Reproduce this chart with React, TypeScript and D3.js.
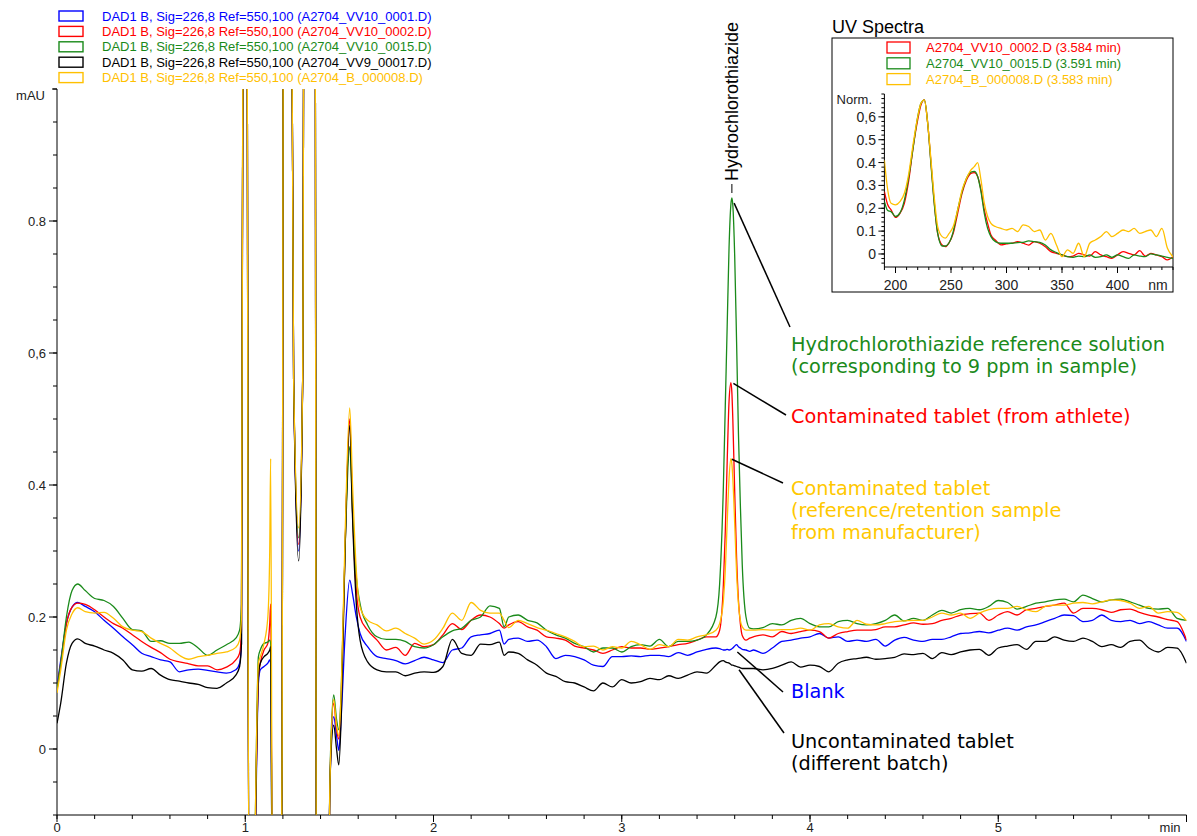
import React from 'react';
import * as d3 from 'd3';

// retention time grid (min), denser around the solvent front and the HCT peak
const time = [
  0, 0.02, 0.05, 0.08, 0.11, 0.15, 0.2, 0.25, 0.3, 0.35, 0.4, 0.45, 0.5, 0.55, 0.6, 0.65, 0.7, 0.75, 0.8, 0.85, 0.9, 0.95,
  0.97, 0.98, 0.99, 1.0, 1.01, 1.02, 1.045, 1.055, 1.07, 1.08, 1.1, 1.12, 1.13, 1.135, 1.145, 1.185, 1.195, 1.205, 1.24, 1.257, 1.284, 1.305, 1.315, 1.37, 1.378, 1.44, 1.45, 1.47, 1.485, 1.497, 1.51, 1.53, 1.555, 1.57, 1.59, 1.61,
  1.65, 1.7, 1.75, 1.8, 1.85, 1.9, 1.95, 2.0, 2.05, 2.1, 2.15, 2.2, 2.25, 2.3, 2.35, 2.375, 2.4, 2.45, 2.5, 2.55, 2.6, 2.65, 2.7, 2.75, 2.8, 2.85, 2.9, 2.95, 3.0, 3.05, 3.1, 3.15, 3.2, 3.25, 3.3, 3.35, 3.4, 3.45,
  3.5, 3.52, 3.54, 3.55, 3.56, 3.57, 3.58, 3.585, 3.59, 3.6, 3.61, 3.62, 3.63, 3.64, 3.66, 3.68,
  3.7, 3.75, 3.8, 3.85, 3.9, 3.95, 4.0, 4.05, 4.1, 4.15, 4.2, 4.25, 4.3, 4.35, 4.4, 4.45, 4.5, 4.55, 4.6, 4.65, 4.7, 4.75, 4.8, 4.85, 4.9, 4.95,
  5.0, 5.05, 5.1, 5.15, 5.2, 5.25, 5.3, 5.35, 5.4, 5.45, 5.5, 5.55, 5.6, 5.65, 5.7, 5.75, 5.8, 5.85, 5.9, 5.95, 6.0,
];

// A2704_VV10_0001.D (blank)
const blank = [
  0.095, 0.135, 0.19, 0.215, 0.222, 0.216, 0.208, 0.195, 0.183, 0.17, 0.158, 0.145, 0.14, 0.135, 0.132, 0.117, 0.12, 0.121, 0.119, 0.117, 0.115, 0.12,
  0.13, 0.16, 1.5, 3, 1.2, -0.3, -0.3, -0.12, 0.1, 0.12, 0.125, 0.13, 0.135, 0.13, -0.3, -0.3, -0.05, 1.5, 1.5, 0.56, 0.3, 0.56, 1.5, 1.5, -0.3, -0.3, -0.05, 0.049, 0.02, -0.002, 0.05, 0.17, 0.256, 0.235, 0.2, 0.175,
  0.155, 0.14, 0.137, 0.134, 0.129, 0.134, 0.139, 0.135, 0.131, 0.15, 0.153, 0.17, 0.173, 0.175, 0.18, 0.159, 0.166, 0.168, 0.163, 0.165, 0.155, 0.137, 0.142, 0.14, 0.135, 0.127, 0.125, 0.14, 0.14, 0.141, 0.14, 0.142, 0.142, 0.14, 0.146, 0.142, 0.147, 0.151,
  0.153, 0.152, 0.15, 0.15, 0.151, 0.15, 0.151, 0.152, 0.153, 0.156, 0.158, 0.155, 0.153, 0.151, 0.15, 0.148,
  0.15, 0.145, 0.153, 0.163, 0.165, 0.168, 0.17, 0.175, 0.168, 0.17, 0.163, 0.165, 0.163, 0.166, 0.156, 0.165, 0.169, 0.165, 0.163, 0.166, 0.166, 0.17, 0.175, 0.176, 0.178, 0.176,
  0.18, 0.183, 0.18, 0.185, 0.188, 0.193, 0.198, 0.203, 0.202, 0.193, 0.195, 0.203, 0.195, 0.193, 0.195, 0.19, 0.193, 0.188, 0.183, 0.183, 0.163,
];

// A2704_VV10_0002.D (contaminated tablet, athlete)
const athlete = [
  0.09, 0.13, 0.19, 0.215, 0.221, 0.219, 0.211, 0.2, 0.19, 0.183, 0.173, 0.163, 0.154, 0.146, 0.136, 0.132, 0.129, 0.126, 0.126, 0.12, 0.124, 0.135,
  0.145, 0.18, 1.5, 3, 1.2, -0.3, -0.3, -0.1, 0.11, 0.13, 0.15, 0.16, 0.19, 0.22, -0.3, -0.3, -0.05, 1.5, 1.5, 0.56, 0.31, 0.56, 1.5, 1.5, -0.3, -0.3, -0.05, 0.07, 0.03, 0.015, 0.08, 0.3, 0.5, 0.36, 0.24, 0.2,
  0.18, 0.165, 0.15, 0.154, 0.142, 0.16, 0.155, 0.158, 0.173, 0.19, 0.181, 0.195, 0.203, 0.2, 0.19, 0.183, 0.188, 0.193, 0.185, 0.18, 0.17, 0.168, 0.165, 0.156, 0.153, 0.15, 0.145, 0.15, 0.155, 0.153, 0.153, 0.151, 0.153, 0.155, 0.158, 0.16, 0.165, 0.17,
  0.17, 0.18, 0.25, 0.33, 0.435, 0.527, 0.555, 0.54, 0.5, 0.39, 0.29, 0.225, 0.19, 0.172, 0.165, 0.168,
  0.17, 0.173, 0.17, 0.178, 0.175, 0.178, 0.18, 0.178, 0.168, 0.175, 0.178, 0.18, 0.18, 0.181, 0.185, 0.185, 0.188, 0.191, 0.189, 0.19, 0.195, 0.198, 0.203, 0.205, 0.206, 0.195,
  0.203, 0.208, 0.203, 0.211, 0.213, 0.216, 0.218, 0.221, 0.206, 0.213, 0.213, 0.211, 0.207, 0.211, 0.212, 0.207, 0.203, 0.2, 0.196, 0.193, 0.165,
];

// A2704_VV10_0015.D (HCT reference solution)
const reference = [
  0.09, 0.13, 0.2, 0.24, 0.25, 0.24, 0.228, 0.225, 0.216, 0.198, 0.181, 0.179, 0.163, 0.164, 0.16, 0.16, 0.162, 0.153, 0.142, 0.15, 0.158, 0.168,
  0.18, 0.22, 1.5, 3, 1.2, -0.3, -0.3, -0.08, 0.14, 0.15, 0.16, 0.162, 0.165, 0.16, -0.3, -0.3, -0.05, 1.5, 1.5, 0.56, 0.32, 0.56, 1.5, 1.5, -0.3, -0.3, -0.04, 0.082, 0.045, 0.029, 0.09, 0.3, 0.458, 0.36, 0.26, 0.22,
  0.188, 0.17, 0.166, 0.166, 0.163, 0.155, 0.153, 0.158, 0.17, 0.179, 0.183, 0.195, 0.2, 0.217, 0.213, 0.185, 0.2, 0.203, 0.195, 0.191, 0.18, 0.173, 0.168, 0.16, 0.155, 0.147, 0.153, 0.153, 0.147, 0.155, 0.158, 0.156, 0.166, 0.155, 0.163, 0.163, 0.165, 0.173,
  0.2, 0.25, 0.4, 0.52, 0.64, 0.76, 0.826, 0.835, 0.824, 0.747, 0.617, 0.477, 0.37, 0.28, 0.2, 0.183,
  0.182, 0.184, 0.19, 0.188, 0.195, 0.198, 0.19, 0.185, 0.185, 0.193, 0.195, 0.19, 0.188, 0.19, 0.195, 0.203, 0.194, 0.198, 0.195, 0.203, 0.21, 0.206, 0.211, 0.213, 0.211, 0.216,
  0.225, 0.222, 0.212, 0.216, 0.221, 0.223, 0.226, 0.227, 0.223, 0.233, 0.228, 0.223, 0.226, 0.227, 0.223, 0.218, 0.213, 0.212, 0.213, 0.198, 0.195,
];

// A2704_VV9_00017.D (uncontaminated tablet)
const uncontaminated = [
  0.039, 0.07, 0.13, 0.16, 0.167, 0.16, 0.156, 0.15, 0.145, 0.135, 0.12, 0.118, 0.122, 0.112, 0.105, 0.103, 0.1, 0.098, 0.093, 0.092, 0.1, 0.112,
  0.125, 0.16, 1.5, 3, 1.2, -0.3, -0.3, -0.1, 0.11, 0.13, 0.14, 0.145, 0.15, 0.155, -0.3, -0.3, -0.05, 1.5, 1.5, 0.56, 0.285, 0.56, 1.5, 1.5, -0.3, -0.3, -0.05, 0.036, 0.0, -0.024, 0.05, 0.3, 0.49, 0.35, 0.22, 0.165,
  0.132, 0.12, 0.117, 0.117, 0.111, 0.115, 0.117, 0.116, 0.125, 0.166, 0.145, 0.142, 0.159, 0.158, 0.162, 0.142, 0.147, 0.145, 0.135, 0.127, 0.115, 0.11, 0.102, 0.1, 0.094, 0.088, 0.1, 0.094, 0.105, 0.1, 0.102, 0.107, 0.105, 0.111, 0.107, 0.112, 0.117, 0.115,
  0.127, 0.132, 0.134, 0.132, 0.131, 0.13, 0.128, 0.127, 0.127, 0.126, 0.125, 0.124, 0.123, 0.122, 0.122, 0.122,
  0.122, 0.12, 0.122, 0.127, 0.132, 0.124, 0.127, 0.125, 0.117, 0.13, 0.135, 0.137, 0.139, 0.136, 0.137, 0.139, 0.144, 0.143, 0.145, 0.137, 0.146, 0.143, 0.147, 0.15, 0.151, 0.142,
  0.153, 0.156, 0.158, 0.151, 0.163, 0.163, 0.17, 0.165, 0.163, 0.168, 0.163, 0.155, 0.158, 0.154, 0.163, 0.165, 0.153, 0.147, 0.154, 0.153, 0.13,
];

// A2704_B_000008.D (retention sample from manufacturer)
const manufacturer = [
  0.085, 0.12, 0.18, 0.205, 0.214, 0.208, 0.206, 0.207, 0.198, 0.185, 0.18, 0.178, 0.168, 0.16, 0.153, 0.142, 0.136, 0.14, 0.142, 0.145, 0.147, 0.154,
  0.165, 0.2, 1.5, 3, 1.2, -0.3, -0.3, -0.08, 0.13, 0.14, 0.16, 0.2, 0.3, 0.44, -0.3, -0.3, -0.05, 1.5, 1.5, 0.56, 0.335, 0.56, 1.5, 1.5, -0.3, -0.3, -0.05, 0.075, 0.035, 0.02, 0.09, 0.32, 0.517, 0.4, 0.27, 0.215,
  0.195, 0.188, 0.179, 0.183, 0.175, 0.168, 0.159, 0.165, 0.183, 0.206, 0.195, 0.222, 0.21, 0.206, 0.206, 0.195, 0.184, 0.195, 0.19, 0.184, 0.18, 0.175, 0.17, 0.163, 0.155, 0.156, 0.15, 0.155, 0.153, 0.163, 0.158, 0.151, 0.158, 0.155, 0.166, 0.165, 0.17, 0.173,
  0.18, 0.19, 0.225, 0.27, 0.342, 0.41, 0.44, 0.432, 0.41, 0.342, 0.267, 0.22, 0.195, 0.185, 0.18, 0.18,
  0.18, 0.181, 0.18, 0.181, 0.181, 0.183, 0.18, 0.188, 0.19, 0.185, 0.183, 0.195, 0.189, 0.188, 0.19, 0.193, 0.194, 0.195, 0.195, 0.2, 0.206, 0.203, 0.206, 0.198, 0.206, 0.211,
  0.213, 0.213, 0.216, 0.211, 0.208, 0.216, 0.218, 0.218, 0.221, 0.222, 0.22, 0.223, 0.226, 0.225, 0.221, 0.213, 0.216, 0.206, 0.208, 0.207, 0.194,
];

const legendLabels = [
  'DAD1 B, Sig=226,8 Ref=550,100 (A2704_VV10_0001.D)',
  'DAD1 B, Sig=226,8 Ref=550,100 (A2704_VV10_0002.D)',
  'DAD1 B, Sig=226,8 Ref=550,100 (A2704_VV10_0015.D)',
  'DAD1 B, Sig=226,8 Ref=550,100 (A2704_VV9_00017.D)',
  'DAD1 B, Sig=226,8 Ref=550,100 (A2704_B_000008.D)',
];
const seriesColors = ['#0000ff', '#ff0000', '#1a8a1a', '#000000', '#ffc000'];

const xTicks = [0, 1, 2, 3, 4, 5];
const yTicks = [0, 0.2, 0.4, 0.6, 0.8];
const yTickLabels = ['0', '0.2', '0.4', '0,6', '0.8'];

// UV spectra of the HCT peak
const wavelength = [
  190, 193, 196, 200, 204, 208, 212, 216, 220, 223, 226, 229, 232, 235, 238, 242, 245, 248, 252, 256, 260, 264, 268, 271, 274, 277, 280, 283, 286, 290,
  295, 300, 305, 310, 315, 320, 325, 330, 335, 340, 345, 350, 355, 360, 365, 370, 375, 380, 385, 390, 395, 400, 405, 410, 415, 420, 425, 430, 435, 440, 445, 450,
];
const specAthlete = [
  0.273, 0.215, 0.193, 0.16, 0.178, 0.222, 0.324, 0.47, 0.587, 0.653, 0.674, 0.572, 0.397, 0.222, 0.09, 0.039, 0.032, 0.047, 0.09, 0.178, 0.266, 0.324, 0.353, 0.356, 0.339, 0.28, 0.193, 0.134, 0.083, 0.061,
  0.04, 0.044, 0.047, 0.054, 0.047, 0.039, 0.054, 0.047, 0.032, 0.01, 0.003, -0.004, -0.012, -0.009, 0.003, -0.004, -0.009, 0.01, -0.004, -0.012, -0.019, -0.004, 0.01, 0.003, -0.004, 0.015, -0.009, 0.003, -0.004, -0.012, -0.026, -0.012,
];
const specReference = [
  0.23, 0.19, 0.185, 0.164, 0.18, 0.236, 0.339, 0.47, 0.6, 0.66, 0.674, 0.572, 0.39, 0.215, 0.09, 0.035, 0.035, 0.047, 0.098, 0.193, 0.273, 0.331, 0.358, 0.361, 0.339, 0.273, 0.178, 0.112, 0.076, 0.054,
  0.047, 0.047, 0.047, 0.05, 0.051, 0.057, 0.054, 0.051, 0.039, 0.018, 0.006, -0.004, -0.012, -0.015, -0.009, -0.012, -0.004, -0.015, -0.012, -0.004, -0.015, -0.004, -0.012, -0.019, -0.004, -0.009, -0.012, 0.0, -0.004, -0.009, -0.015, -0.019,
];
const specManufacturer = [
  0.41, 0.28, 0.222, 0.215, 0.229, 0.266, 0.353, 0.485, 0.6, 0.66, 0.674, 0.572, 0.41, 0.244, 0.12, 0.076, 0.069, 0.088, 0.12, 0.193, 0.28, 0.331, 0.368, 0.382, 0.4, 0.324, 0.222, 0.164, 0.134, 0.12,
  0.112, 0.105, 0.112, 0.098, 0.127, 0.12, 0.098, 0.105, 0.061, 0.09, 0.039, -0.012, 0.018, 0.003, 0.047, -0.012, 0.047, 0.061, 0.076, 0.098, 0.076, 0.09, 0.105, 0.098, 0.112, 0.09, 0.098, 0.105, 0.076, 0.112, 0.025, -0.012,
];
const specLabels = [
  'A2704_VV10_0002.D (3.584 min)',
  'A2704_VV10_0015.D (3.591 min)',
  'A2704_B_000008.D (3.583 min)',
];
const specColors = ['#ff0000', '#1a8a1a', '#ffc000'];
const specXTicks = [200, 250, 300, 350, 400];
const specYTicks = [0, 0.1, 0.2, 0.3, 0.4, 0.5, 0.6];
const specYLabels = ['0', '0.1', '0,2', '0.3', '0.4', '0.5', '0,6'];

const peakTime = 3.585;

// callouts: anchor on the trace (min, mAU), then label to the right
const notes = [
  { lines: ['Hydrochlorothiazide reference solution', '(corresponding to 9 ppm in sample)'], color: '#1a8a1a', at: [3.597, 0.827], end: [790, 327], baseline: 351 },
  { lines: ['Contaminated tablet (from athlete)'], color: '#ff0000', at: [3.593, 0.554], end: [786, 415], baseline: 423 },
  { lines: ['Contaminated tablet', '(reference/retention sample', 'from manufacturer)'], color: '#ffc800', at: [3.585, 0.439], end: [783, 483], baseline: 495 },
  { lines: ['Blank'], color: '#0000ff', at: [3.614, 0.147], end: [783, 692], baseline: 698 },
  { lines: ['Uncontaminated tablet', '(different batch)'], color: '#000000', at: [3.623, 0.12], end: [784, 733], baseline: 748 },
];

const W = 1197;
const H = 836;
const fontUI = '"Liberation Sans", Arial, sans-serif';
const fontNote = '"DejaVu Sans", Verdana, sans-serif';

export default function App() {
  const x = d3.scaleLinear().domain([0, 6]).range([57, 1186.5]);
  const y = d3.scaleLinear().domain([-0.1, 1.0]).range([815, 89]);

  const xs = d3.scaleLinear().domain([190, 450]).range([884.4, 1173]);
  const ys = d3.scaleLinear().domain([-0.057, 0.7]).range([267, 94]);

  const line = d3
    .line<[number, number]>()
    .x(d => x(d[0]))
    .y(d => y(d[1]))
    .curve(d3.curveMonotoneX);
  const specLine = d3
    .line<[number, number]>()
    .x(d => xs(d[0]))
    .y(d => ys(d[1]))
    .curve(d3.curveMonotoneX);

  const traces = [blank, athlete, reference, uncontaminated, manufacturer];
  const spectra = [specAthlete, specReference, specManufacturer];

  const yMinor = d3.range(-2, 21).map(i => i * 0.05);
  const xMinor = d3.range(0, 31).map(i => i * 0.2);
  const sYMinor = d3.range(-2, 36).map(i => i * 0.02);
  const sXMinor = d3.range(19, 46).map(i => i * 10);

  return (
    <svg
      width={W}
      height={H}
      style={{ position: 'absolute', left: 0, top: 0, background: '#fff' }}
      fontFamily={fontUI}
    >
      <defs>
        <clipPath id="plotClip">
          <rect x={x(0)} y={y(1.0)} width={x(6) - x(0)} height={y(-0.1) - y(1.0)} />
        </clipPath>
        <clipPath id="specClip">
          <rect x={xs(190)} y={ys(0.7)} width={xs(450) - xs(190)} height={ys(-0.057) - ys(0.7)} />
        </clipPath>
      </defs>
      <rect width={W} height={H} fill="#fff" />

      {/* legend */}
      {legendLabels.map((label, i) => (
        <g key={label}>
          <rect x={59} y={11 + i * 15.4} width={24} height={10} fill="none" stroke={seriesColors[i]} strokeWidth={1.4} />
          <text x={102} y={20.5 + i * 15.4} fontSize={13} fill={seriesColors[i]}>
            {label}
          </text>
        </g>
      ))}

      {/* y axis */}
      <line x1={x(0)} x2={x(0)} y1={y(1.0)} y2={y(-0.1)} stroke="#000" />
      <line x1={x(0) - 5} x2={x(0)} y1={y(1.0)} y2={y(1.0)} stroke="#000" />
      {yMinor.map(v => (
        <line key={'ym' + v} x1={x(0) - 4} x2={x(0)} y1={y(v)} y2={y(v)} stroke="#000" />
      ))}
      {yTicks.map((v, i) => (
        <g key={'y' + v}>
          <line x1={x(0) - 8} x2={x(0)} y1={y(v)} y2={y(v)} stroke="#000" />
          <text x={46} y={y(v) + 4.5} fontSize={13} textAnchor="end" fill="#222">
            {yTickLabels[i]}
          </text>
        </g>
      ))}
      <text x={45} y={100} fontSize={13} textAnchor="end" fill="#222">
        mAU
      </text>

      {/* x axis */}
      <line x1={x(0)} x2={x(6)} y1={y(-0.1)} y2={y(-0.1)} stroke="#000" />
      {xMinor.map(t => (
        <line key={'xm' + t} x1={x(t)} x2={x(t)} y1={y(-0.1)} y2={y(-0.1) + 4} stroke="#000" />
      ))}
      {xTicks.map(t => (
        <g key={'x' + t}>
          <line x1={x(t)} x2={x(t)} y1={y(-0.1)} y2={y(-0.1) + 7} stroke="#000" />
          <text x={x(t)} y={832} fontSize={13} textAnchor="middle" fill="#222">
            {t}
          </text>
        </g>
      ))}
      <line x1={x(6)} x2={x(6)} y1={y(-0.1)} y2={y(-0.1) + 7} stroke="#000" />
      <text x={x(6) - 6} y={832} fontSize={13} textAnchor="end" fill="#222">
        min
      </text>

      {/* chromatograms */}
      <g clipPath="url(#plotClip)">
        {traces.map((vals, i) => (
          <path
            key={'tr' + i}
            d={line(d3.zip(time, vals) as [number, number][]) || ''}
            fill="none"
            stroke={seriesColors[i]}
            strokeWidth={1.3}
            strokeLinejoin="round"
          />
        ))}
      </g>

      {/* peak label */}
      <line x1={x(peakTime)} x2={x(peakTime)} y1={184} y2={193} stroke="#000" />
      <text
        transform={`translate(${x(peakTime) + 6},181) rotate(-90)`}
        fontSize={18}
        fill="#000"
      >
        Hydrochlorothiazide
      </text>

      {/* callouts */}
      {notes.map((n, i) => (
        <g key={'n' + i}>
          <line x1={x(n.at[0])} y1={y(n.at[1])} x2={n.end[0]} y2={n.end[1]} stroke="#000" strokeWidth={1.5} />
          {n.lines.map((s, j) => (
            <text key={j} x={791} y={n.baseline + j * 22} fontSize={19.3} fontFamily={fontNote} fill={n.color}>
              {s}
            </text>
          ))}
        </g>
      ))}

      {/* UV spectra inset */}
      <text x={832} y={33} fontSize={18} fill="#000">
        UV Spectra
      </text>
      <rect x={832} y={38} width={341} height={254} fill="#fff" stroke="#000" strokeWidth={1} />
      {specLabels.map((label, i) => (
        <g key={label}>
          <rect x={887} y={42 + i * 15.8} width={23} height={11} fill="none" stroke={specColors[i]} strokeWidth={1.3} />
          <text x={926} y={52 + i * 15.8} fontSize={13} fill={specColors[i]}>
            {label}
          </text>
        </g>
      ))}
      <line x1={xs(190)} x2={xs(190)} y1={ys(0.7)} y2={ys(-0.057)} stroke="#000" />
      <line x1={xs(190)} x2={xs(450)} y1={ys(-0.057)} y2={ys(-0.057)} stroke="#000" />
      {sYMinor.map(v => (
        <line key={'sym' + v} x1={xs(190) - 3} x2={xs(190)} y1={ys(v)} y2={ys(v)} stroke="#000" />
      ))}
      {specYTicks.map((v, i) => (
        <g key={'sy' + v}>
          <line x1={xs(190) - 6} x2={xs(190)} y1={ys(v)} y2={ys(v)} stroke="#000" />
          <text x={876} y={ys(v) + 5} fontSize={14} textAnchor="end" fill="#222">
            {specYLabels[i]}
          </text>
        </g>
      ))}
      <text x={872} y={104} fontSize={13} textAnchor="end" fill="#222">
        Norm.
      </text>
      {sXMinor.map(w => (
        <line key={'sxm' + w} x1={xs(w)} x2={xs(w)} y1={ys(-0.057)} y2={ys(-0.057) + 3} stroke="#000" />
      ))}
      {specXTicks.map(w => (
        <g key={'sx' + w}>
          <line x1={xs(w)} x2={xs(w)} y1={ys(-0.057)} y2={ys(-0.057) + 6} stroke="#000" />
          <text x={xs(w)} y={290} fontSize={14} textAnchor="middle" fill="#222">
            {w}
          </text>
        </g>
      ))}
      <text x={1158} y={290} fontSize={14} textAnchor="middle" fill="#222">
        nm
      </text>
      <g clipPath="url(#specClip)">
        {spectra.map((vals, i) => (
          <path
            key={'sp' + i}
            d={specLine(d3.zip(wavelength, vals) as [number, number][]) || ''}
            fill="none"
            stroke={specColors[i]}
            strokeWidth={1.3}
            strokeLinejoin="round"
          />
        ))}
      </g>
    </svg>
  );
}
